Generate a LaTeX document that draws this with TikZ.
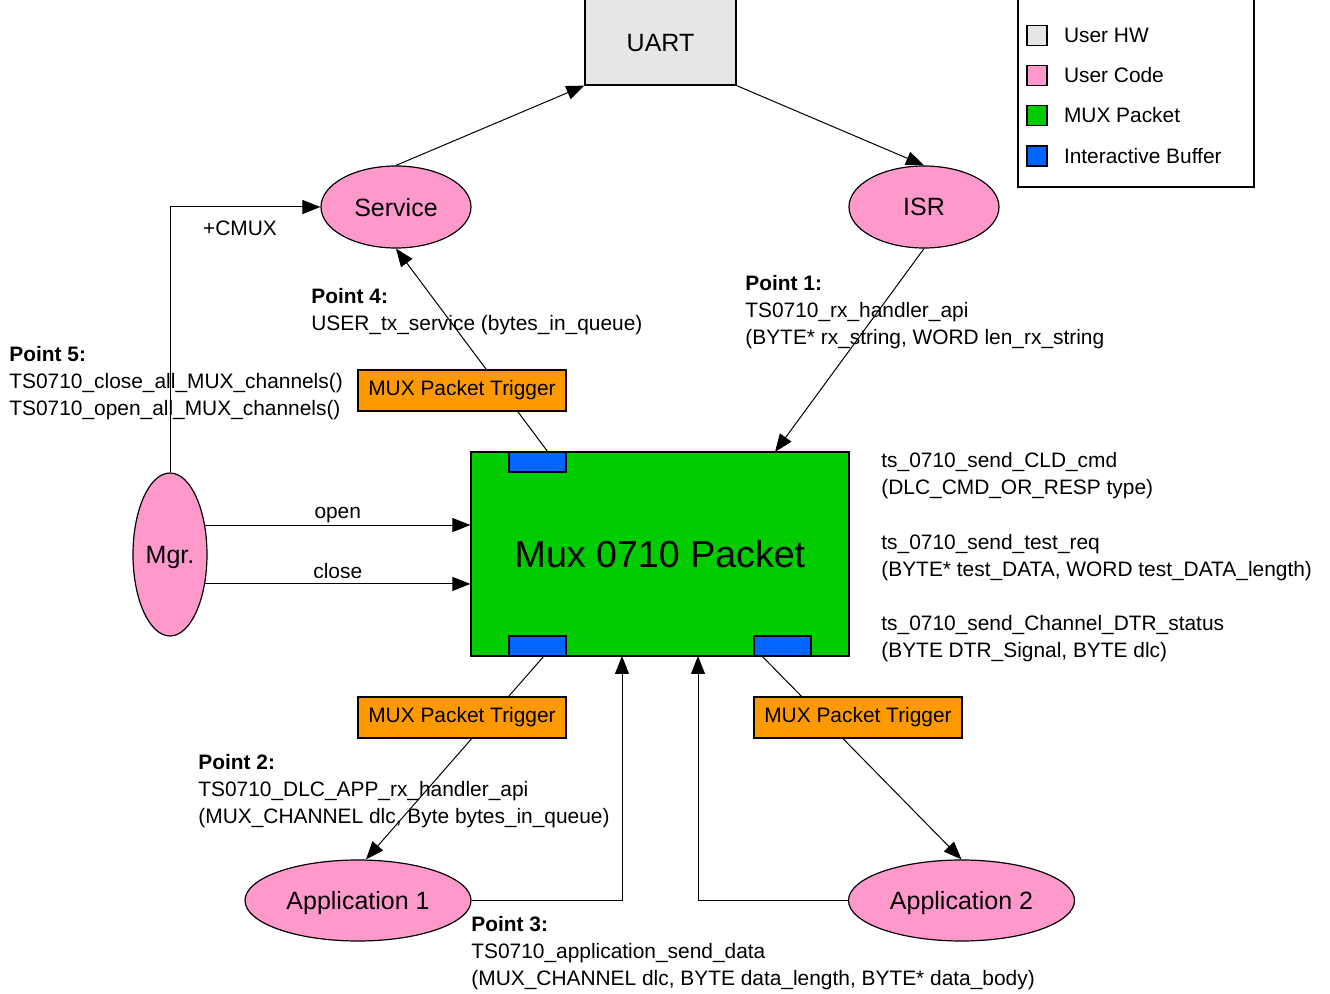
\documentclass[tikz,border=0pt]{standalone}
\usepackage{fontspec}
\setmainfont{Liberation Sans}
\usetikzlibrary{arrows.meta, positioning, shapes.geometric, backgrounds}
\definecolor{hwgray}{RGB}{230,230,230}
\definecolor{codepink}{RGB}{255,153,204}
\definecolor{muxgreen}{RGB}{0,204,0}
\definecolor{bufblue}{RGB}{0,102,255}
\definecolor{trigorange}{RGB}{255,153,0}

\begin{document}
\begin{tikzpicture}[x=0.5pt, y=-0.5pt,
      lbl/.style={inner sep=0pt, font=\fontsize{10.45}{13.5}\selectfont},
      note/.style={lbl, anchor=north west, align=left},
      code/.style={ellipse, draw, line width=0.6pt, fill=codepink, inner sep=0pt,
                  text depth=0pt, font=\fontsize{12.5}{15}\selectfont},
      hw/.style={rectangle, draw, line width=0.6pt, fill=hwgray,
                  text depth=0pt, font=\fontsize{12.5}{15}\selectfont},
      buf/.style={rectangle, draw, line width=0.6pt, fill=bufblue,
                  minimum width=28.5pt, minimum height=10pt, inner sep=0pt},
      trig/.style={rectangle, draw, line width=0.6pt, fill=trigorange,
                  minimum width=104pt, minimum height=20.5pt, lbl},
      key/.style={rectangle, draw, line width=0.6pt, minimum size=10pt, inner sep=0pt},
      arr/.style={-{Triangle[length=9pt, width=7pt]}, line width=0.5pt}
    ]
    \useasboundingbox (0,0) rectangle (1330,994);
    \clip (0,0) rectangle (1330,994);

    \node[hw, minimum width=75.5pt, minimum height=43.5pt] (uart) at (660.5,41.5) {\raisebox{-1.2pt}{UART}};
    \node[code, minimum width=75pt, minimum height=41pt] (serv) at (396,207) {Service};
    \node[code, minimum width=75pt, minimum height=41pt] (isr) at (924,207) {ISR};
    \node[code, minimum width=37pt, minimum height=81.5pt] (mgr) at (170,554.5) {Mgr.};
    \node[code, minimum width=113pt, minimum height=40.5pt] (app1) at (358,900.5) {Application 1};
    \node[code, minimum width=113pt, minimum height=40.5pt] (app2) at (961.5,900.5) {Application 2};

    \node[rectangle, draw, line width=0.6pt, fill=muxgreen, minimum width=189pt,
          minimum height=102pt, font=\fontsize{18.8}{22}\selectfont] (mux) at (660,554) {Mux 0710 Packet};
    \node[buf, anchor=north west] (buf1) at ([xshift=19pt]mux.north west) {};
    \node[buf, anchor=south west] (buf2) at ([xshift=19pt]mux.south west) {};
    \node[buf, anchor=south east] (buf3) at ([xshift=-19pt]mux.south east) {};

    \node[trig] (trig1) at (462,390.5) {MUX Packet Trigger};
    \node[trig] (trig2) at (462,717.5) {MUX Packet Trigger};
    \node[trig] (trig3) at (858,717.5) {MUX Packet Trigger};

    % legend
    \node[rectangle, draw, line width=0.6pt, minimum width=118pt, minimum height=94.5pt] (legend) at (1136,92.5) {};
    \node[key, fill=hwgray] (k1) at (1037,35.5) {};
    \node[key, fill=codepink] (k2) at (1037,75.5) {};
    \node[key, fill=muxgreen] (k3) at (1037,115.5) {};
    \node[key, fill=bufblue] (k4) at (1037,156) {};
    \node[lbl, right=8pt of k1] (t1) {User HW};
    \node[lbl, right=8pt of k2] (t2) {User Code};
    \node[lbl, right=8pt of k3] (t3) {MUX Packet};
    \node[lbl, right=8pt of k4] (t4) {Interactive Buffer};

    \node[note] (p4) at (311,287.5) {\textbf{Point 4:}\\USER\_tx\_service (bytes\_in\_queue)};
    \node[note] (p1) at (745,274.5) {\textbf{Point 1:}\\TS0710\_rx\_handler\_api\\(BYTE* rx\_string, WORD len\_rx\_string};
    \node[note] (p5) at (9,345.5) {\textbf{Point 5:}\\TS0710\_close\_all\_MUX\_channels()\\TS0710\_open\_all\_MUX\_channels()};
    \node[note] (r1) at (881,451.5) {ts\_0710\_send\_CLD\_cmd\\(DLC\_CMD\_OR\_RESP type)};
    \node[note] (r2) at (881,533.5) {ts\_0710\_send\_test\_req\\(BYTE* test\_DATA, WORD test\_DATA\_length)};
    \node[note] (r3) at (881,614.5) {ts\_0710\_send\_Channel\_DTR\_status\\(BYTE DTR\_Signal, BYTE dlc)};
    \node[note] (p2) at (198,753.5) {\textbf{Point 2:}\\TS0710\_DLC\_APP\_rx\_handler\_api\\(MUX\_CHANNEL dlc, Byte bytes\_in\_queue)};
    \node[note] (p3) at (471,915.5) {\textbf{Point 3:}\\TS0710\_application\_send\_data\\(MUX\_CHANNEL dlc, BYTE data\_length, BYTE* data\_body)};
    \node[lbl] (cmux) at (240,228) {+CMUX};

    \coordinate (isrin) at (775,452);
    \coordinate (in3) at (622,656);
    \coordinate (in4) at (698,656);

    \begin{pgfonlayer}{background}
      \draw[arr] (serv.north) -- (uart.south west);
      \draw[arr] (uart.south east) -- (isr.north);
      \draw[arr] (isr.south) -- (isrin);
      \draw[arr] ([xshift=5pt]buf1.north) -- (serv.south);
      \draw[arr] ([xshift=3pt]buf2.south) -- ([xshift=4pt]app1.north);
      \draw[arr] ([xshift=-10pt]buf3.south) -- (app2.north);
      \draw[arr] (app1.east) -| (in3);
      \draw[arr] (app2.west) -| (in4);
      \draw[arr] (mgr.north) |- (serv.west);
      \draw[arr] (mgr.40) -- (mgr.40 -| mux.west)
        node[lbl, midway, above=1pt] (lopen) {open};
      \draw[arr] (mgr.-40) -- (mgr.-40 -| mux.west)
        node[lbl, midway, above=2.5pt] (lclose) {close};
    \end{pgfonlayer}
  \end{tikzpicture}
\end{document}
